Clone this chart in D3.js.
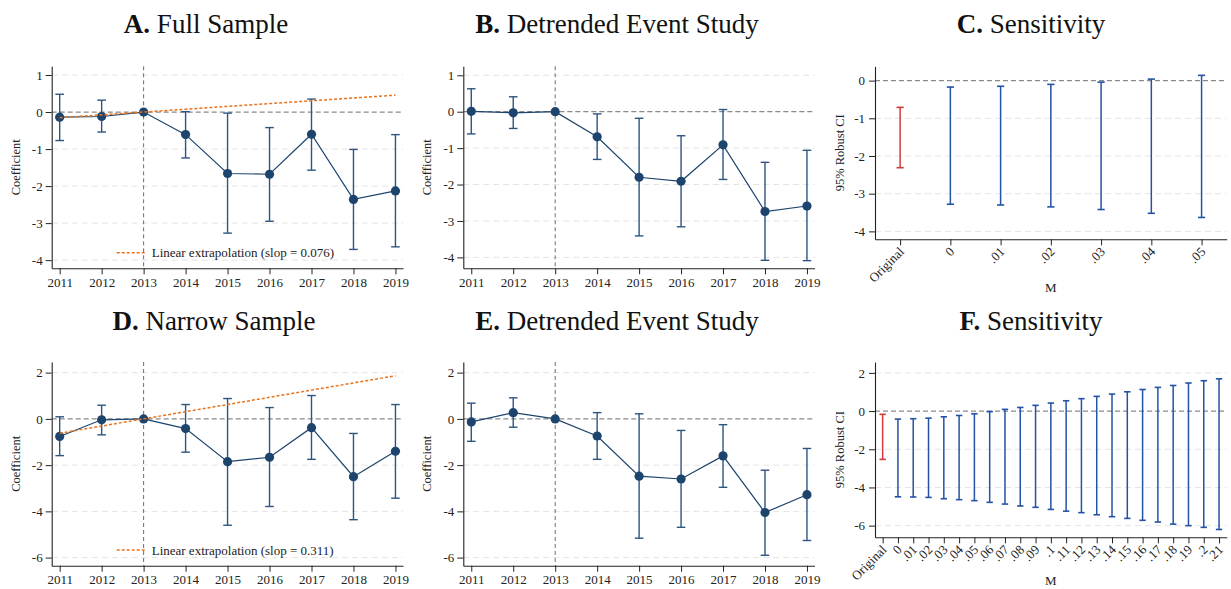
<!DOCTYPE html>
<html>
<head>
<meta charset="utf-8">
<script src="https://cdn.jsdelivr.net/npm/d3@7"></script>
<style>
  html, body { margin: 0; padding: 0; background: #fff; }
  svg { display: block; font-family: "Liberation Serif", "Times New Roman", serif; }
</style>
</head>
<body>
<svg id="fig" width="1231" height="589"></svg>
<script>
// ---- Event-study estimates (event years) ----
const years = [2011, 2012, 2013, 2014, 2015, 2016, 2017, 2018, 2019];
const baseYear = 2013;

// A. Full sample
const fullCoef = [-0.14, -0.12, 0, -0.61, -1.66, -1.68, -0.60, -2.36, -2.13];
const fullLo   = [-0.77, -0.54, null, -1.24, -3.27, -2.95, -1.57, -3.71, -3.64];
const fullHi   = [0.48, 0.32, null, 0.01, -0.03, -0.42, 0.35, -1.01, -0.61];
const fullSlope = 0.076;

// B. Detrended, full sample
const detrFullCoef = [0.01, -0.03, 0, -0.69, -1.80, -1.91, -0.91, -2.74, -2.59];
const detrFullLo   = [-0.61, -0.46, null, -1.31, -3.41, -3.16, -1.86, -4.08, -4.09];
const detrFullHi   = [0.63, 0.41, null, -0.06, -0.18, -0.66, 0.06, -1.39, -1.06];

// D. Narrow sample
const narrowCoef = [-0.76, -0.04, 0, -0.42, -1.85, -1.66, -0.38, -2.50, -1.40];
const narrowLo   = [-1.59, -0.69, null, -1.44, -4.60, -3.79, -1.75, -4.36, -3.43];
const narrowHi   = [0.09, 0.59, null, 0.62, 0.88, 0.49, 1.01, -0.63, 0.62];
const narrowSlope = 0.311;

// E. Detrended, narrow sample
const detrNarrowCoef = [-0.13, 0.27, 0, -0.74, -2.48, -2.60, -1.60, -4.05, -3.28];
const detrNarrowLo   = [-0.97, -0.36, null, -1.75, -5.16, -4.69, -2.96, -5.90, -5.26];
const detrNarrowHi   = [0.68, 0.91, null, 0.27, 0.22, -0.50, -0.25, -2.22, -1.28];

// ---- Sensitivity (robust CIs by M) ----
const sensFullM  = ["Original", "0", ".01", ".02", ".03", ".04", ".05"];
const sensFullLo = [-2.31, -3.28, -3.30, -3.35, -3.42, -3.52, -3.63];
const sensFullHi = [-0.71, -0.17, -0.15, -0.10, -0.04, 0.04, 0.14];

const sensNarrowM  = ["Original", "0", ".01", ".02", ".03", ".04", ".05", ".06", ".07", ".08", ".09",
                      ".1", ".11", ".12", ".13", ".14", ".15", ".16", ".17", ".18", ".19", ".2", ".21"];
const sensNarrowLo = [-2.53, -4.49, -4.50, -4.52, -4.59, -4.64, -4.69, -4.78, -4.87, -4.97, -5.04,
                      -5.15, -5.24, -5.32, -5.43, -5.53, -5.62, -5.72, -5.81, -5.92, -6.00, -6.09, -6.20];
const sensNarrowHi = [-0.17, -0.42, -0.40, -0.37, -0.30, -0.23, -0.14, -0.03, 0.09, 0.19, 0.30,
                      0.42, 0.54, 0.65, 0.77, 0.89, 1.01, 1.13, 1.24, 1.34, 1.47, 1.59, 1.69];

// ---- Tick labels ----
const yTicksRow1 = [1, 0, -1, -2, -3, -4];
const yTicksSensFull = [0, -1, -2, -3, -4];
const yTicksRow2 = [2, 0, -2, -4, -6];

// ---- Styling ----
const NAVY = "#1c446d";
const NAVY_BAR = "#2c5580";
const ORANGE = "#e8731c";
const BLUE = "#2352a6";
const RED = "#d23b3b";
const GRID = "#e4e4e4";
const REF = "#8a8a8a";

const svg = d3.select("#fig");
svg.append("rect").attr("width", 1231).attr("height", 589).attr("fill", "#fff");

function title(cx, y, letter, text) {
  const t = svg.append("text").attr("x", cx).attr("y", y)
    .attr("text-anchor", "middle").attr("font-size", 27).attr("fill", "#111");
  t.append("tspan").attr("font-weight", "bold").text(letter + ".");
  t.append("tspan").text(" " + text);
}

function styleAxis(sel) {
  sel.select(".domain").attr("stroke", "#222").attr("stroke-width", 1.1);
  sel.selectAll(".tick line").attr("stroke", "#222").attr("stroke-width", 1);
  sel.selectAll(".tick text").attr("fill", "#222").attr("font-size", 13)
    .attr("font-family", "Liberation Serif, serif");
}

function yGuides(g, y, ticks, left, right) {
  g.selectAll(null).data(ticks.filter(t => t !== 0)).join("line")
    .attr("x1", left).attr("x2", right)
    .attr("y1", d => y(d)).attr("y2", d => y(d))
    .attr("stroke", GRID).attr("stroke-width", 1).attr("stroke-dasharray", "6,4");
  g.append("line").attr("x1", left).attr("x2", right)
    .attr("y1", y(0)).attr("y2", y(0))
    .attr("stroke", REF).attr("stroke-width", 1.3).attr("stroke-dasharray", "5,3");
}

function yLabel(x, cy, text) {
  svg.append("text").attr("transform", `translate(${x},${cy}) rotate(-90)`)
    .attr("text-anchor", "middle").attr("font-size", 12.5).attr("fill", "#222").text(text);
}

function eventPanel(o) {
  const g = svg.append("g");
  const x = d3.scaleLinear().domain([2010.81, 2019.18]).range([o.left, o.right]);
  const y = d3.scaleLinear().domain(o.yDomain).range([o.bottom, o.top]);

  yGuides(g, y, o.yTicks, o.left, o.right);

  // reference period marker
  g.append("line").attr("x1", x(baseYear)).attr("x2", x(baseYear))
    .attr("y1", o.top).attr("y2", o.bottom)
    .attr("stroke", "#6e6e6e").attr("stroke-width", 1).attr("stroke-dasharray", "4,3");

  const ax = g.append("g").attr("transform", `translate(0,${o.bottom})`)
    .call(d3.axisBottom(x).tickValues(years).tickFormat(d3.format("d")).tickSize(6).tickSizeOuter(0).tickPadding(3));
  styleAxis(ax);
  const ay = g.append("g").attr("transform", `translate(${o.left},0)`)
    .call(d3.axisLeft(y).tickValues(o.yTicks).tickFormat(d => String(d)).tickSize(6).tickSizeOuter(0).tickPadding(3));
  styleAxis(ay);

  const rows = years.map((yr, i) => ({ yr, c: o.coef[i], lo: o.lo[i], hi: o.hi[i] }));
  const withCI = rows.filter(d => d.lo !== null);
  const cap = 4.3;

  g.selectAll(null).data(withCI).join("line")
    .attr("x1", d => x(d.yr)).attr("x2", d => x(d.yr))
    .attr("y1", d => y(d.lo)).attr("y2", d => y(d.hi))
    .attr("stroke", NAVY_BAR).attr("stroke-width", 1.4);
  ["lo", "hi"].forEach(k => {
    g.selectAll(null).data(withCI).join("line")
      .attr("x1", d => x(d.yr) - cap).attr("x2", d => x(d.yr) + cap)
      .attr("y1", d => y(d[k])).attr("y2", d => y(d[k]))
      .attr("stroke", NAVY_BAR).attr("stroke-width", 1.4);
  });

  g.append("path").datum(rows)
    .attr("d", d3.line().x(d => x(d.yr)).y(d => y(d.c)))
    .attr("fill", "none").attr("stroke", NAVY).attr("stroke-width", 1.2);

  g.selectAll(null).data(rows).join("circle")
    .attr("cx", d => x(d.yr)).attr("cy", d => y(d.c)).attr("r", 4.6)
    .attr("fill", NAVY);

  if (o.slope !== undefined) {
    const trend = years.map(yr => ({ yr, v: o.slope * (yr - baseYear) }));
    g.append("path").datum(trend)
      .attr("d", d3.line().x(d => x(d.yr)).y(d => y(d.v)))
      .attr("fill", "none").attr("stroke", ORANGE).attr("stroke-width", 1.5)
      .attr("stroke-dasharray", "3,2");
    // legend
    const ly = o.legendY;
    g.append("line").attr("x1", o.left + 65).attr("x2", o.left + 95)
      .attr("y1", ly).attr("y2", ly)
      .attr("stroke", ORANGE).attr("stroke-width", 1.5).attr("stroke-dasharray", "3,2");
    g.append("text").attr("x", o.left + 100).attr("y", ly + 4.5)
      .attr("font-size", 13).attr("fill", "#222")
      .text(`Linear extrapolation (slop = ${o.slope.toFixed(3)})`);
  }

  yLabel(o.left - 32, (o.top + o.bottom) / 2, "Coefficient");
}

function sensPanel(o) {
  const g = svg.append("g");
  const x = d3.scalePoint().domain(o.cats).range([o.left, o.right]).padding(0.5);
  const y = d3.scaleLinear().domain(o.yDomain).range([o.bottom, o.top]);

  yGuides(g, y, o.yTicks, o.left, o.right);

  const ax = g.append("g").attr("transform", `translate(0,${o.bottom})`)
    .call(d3.axisBottom(x).tickSize(6).tickSizeOuter(0));
  styleAxis(ax);
  ax.selectAll(".tick text")
    .attr("x", 0).attr("y", 0).attr("dy", "0.35em").attr("dx", 0)
    .attr("text-anchor", "end")
    .attr("transform", "translate(1,10) rotate(-45)");

  const ay = g.append("g").attr("transform", `translate(${o.left},0)`)
    .call(d3.axisLeft(y).tickValues(o.yTicks).tickFormat(d => String(d)).tickSize(6).tickSizeOuter(0).tickPadding(4));
  styleAxis(ay);

  const rows = o.cats.map((m, i) => ({ m, lo: o.lo[i], hi: o.hi[i] }));
  const col = d => d.m === "Original" ? RED : BLUE;
  const cap = o.cap;
  g.selectAll(null).data(rows).join("line")
    .attr("x1", d => x(d.m)).attr("x2", d => x(d.m))
    .attr("y1", d => y(d.lo)).attr("y2", d => y(d.hi))
    .attr("stroke", col).attr("stroke-width", 1.5);
  ["lo", "hi"].forEach(k => {
    g.selectAll(null).data(rows).join("line")
      .attr("x1", d => x(d.m) - cap).attr("x2", d => x(d.m) + cap)
      .attr("y1", d => y(d[k])).attr("y2", d => y(d[k]))
      .attr("stroke", col).attr("stroke-width", 1.6);
  });

  yLabel(844, (o.top + o.bottom) / 2, "95% Robust CI");
  svg.append("text").attr("x", (o.left + o.right) / 2).attr("y", o.mY)
    .attr("text-anchor", "middle").attr("font-size", 13).attr("fill", "#222").text("M");
}

// ---- Row 1 ----
title(206, 33, "A", "Full Sample");
title(617, 33, "B", "Detrended Event Study");
title(1031, 33, "C", "Sensitivity");

eventPanel({ left: 51.7, right: 403, top: 66.3, bottom: 268.3, yDomain: [-4.22, 1.235],
  yTicks: yTicksRow1, coef: fullCoef, lo: fullLo, hi: fullHi, slope: fullSlope, legendY: 252.7 });
eventPanel({ left: 463.3, right: 814.5, top: 66.3, bottom: 268.3, yDomain: [-4.30, 1.247],
  yTicks: yTicksRow1, coef: detrFullCoef, lo: detrFullLo, hi: detrFullHi });
sensPanel({ left: 875, right: 1226.7, top: 66.3, bottom: 239.3, yDomain: [-4.21, 0.38],
  yTicks: yTicksSensFull, cats: sensFullM, lo: sensFullLo, hi: sensFullHi, cap: 3.6, mY: 292 });

// ---- Row 2 ----
title(214, 330, "D", "Narrow Sample");
title(617, 330, "E", "Detrended Event Study");
title(1031, 330, "F", "Sensitivity");

eventPanel({ left: 51.7, right: 403, top: 362, bottom: 565.7, yDomain: [-6.35, 2.46],
  yTicks: yTicksRow2, coef: narrowCoef, lo: narrowLo, hi: narrowHi, slope: narrowSlope, legendY: 550 });
eventPanel({ left: 463.3, right: 814.5, top: 362, bottom: 565.7, yDomain: [-6.35, 2.46],
  yTicks: yTicksRow2, coef: detrNarrowCoef, lo: detrNarrowLo, hi: detrNarrowHi });
sensPanel({ left: 875, right: 1226.7, top: 362, bottom: 537.3, yDomain: [-6.61, 2.57],
  yTicks: yTicksRow2, cats: sensNarrowM, lo: sensNarrowLo, hi: sensNarrowHi, cap: 3.2, mY: 585 });
</script>
</body>
</html>
